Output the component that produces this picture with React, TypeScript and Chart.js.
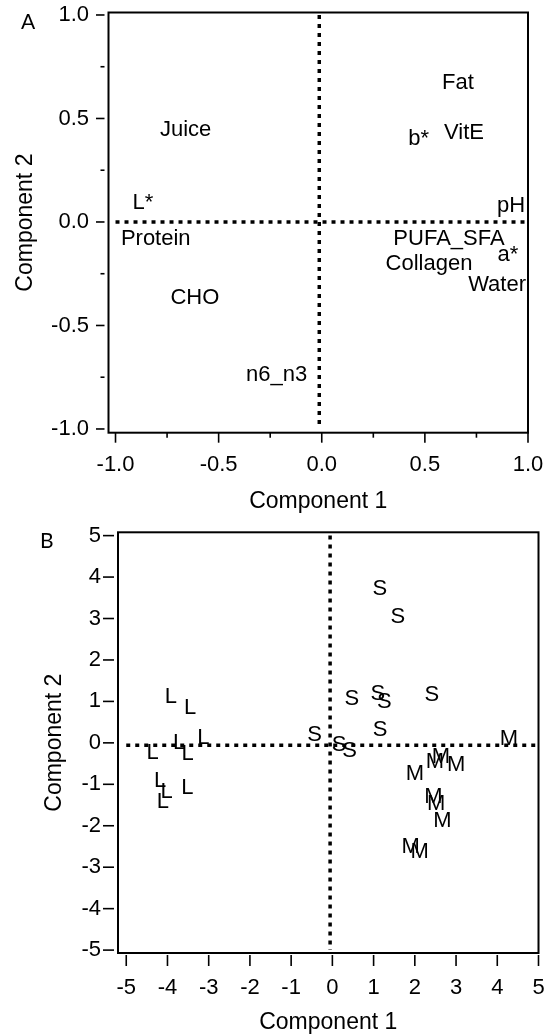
import React, { useEffect, useRef } from 'react';
import { Chart, registerables } from 'chart.js';

Chart.register(...registerables);

const SANS = '"Liberation Sans", Arial, Helvetica, sans-serif';
const LETTER_FONT = 'Lato, "Open Sans", sans-serif';

// ---------------- Panel A: variable loadings ----------------
const A_NAMES = ['Fat', 'Juice', 'b*', 'VitE', 'L*', 'pH', 'Protein', 'PUFA_SFA', 'a*', 'Collagen', 'Water', 'CHO', 'n6_n3'];
const A_COMP1 = [0.66, -0.66, 0.47, 0.69, -0.867, 0.918, -0.805, 0.617, 0.903, 0.52, 0.85, -0.615, -0.219];
const A_COMP2 = [0.674, 0.444, 0.403, 0.428, 0.093, 0.077, -0.082, -0.084, -0.158, -0.203, -0.304, -0.366, -0.739];
const A_TICKS = [-1, -0.5, 0, 0.5, 1];
const A_MINOR_TICKS = [-0.75, -0.25, 0.25, 0.75];
const A_X_LIMITS = [-1.034, 1.0];
const A_Y_LIMITS = [-1.018, 1.012];
const A_REF_SPAN = [-1, 1];
const A_REF_ORIGIN = [-0.012, 0];

// ---------------- Panel B: sample scores ----------------
const B_L_COMP1 = [-3.92, -3.45, -3.13, -3.72, -3.51, -4.36, -4.18, -4.02, -4.11, -3.52];
const B_L_COMP2 = [1.10, 0.84, 0.11, 0.01, -0.27, -0.25, -0.92, -1.18, -1.42, -1.09];
const B_S_COMP1 = [1.15, 1.59, 0.47, 1.10, 1.26, 2.41, 1.16, -0.43, 0.16, 0.42];
const B_S_COMP2 = [3.71, 3.03, 1.07, 1.17, 0.99, 1.15, 0.30, 0.20, -0.06, -0.19];
const B_M_COMP1 = [4.28, 2.0, 2.49, 2.63, 3.0, 2.45, 2.52, 2.67, 1.9, 2.12];
const B_M_COMP2 = [0.10, -0.76, -0.47, -0.34, -0.54, -1.30, -1.48, -1.89, -2.51, -2.64];
const B_TICKS = [-5, -4, -3, -2, -1, 0, 1, 2, 3, 4, 5];
const B_X_LIMITS = [-5.2, 5];
const B_Y_LIMITS = [-5.07, 5.08];
const B_REF_SPAN = [-5, 5];
const B_REF_ORIGIN = [-0.055, -0.06];

const pts = (xs: number[], ys: number[]) => xs.map((x, i) => ({ x, y: ys[i] }));

type Layout = {
  letter: string; letterX: number; letterY: number; letterSize: number;
  padTop: number; padRight: number;
  yAxisWidth: number; yTickPad: number; yTitlePadTop: number;
  xAxisHeight: number; xTickPad: number; xTitlePad: { top: number; bottom: number };
  yTickGap: number; yTickLen: number; yMinorLen: number;
  xTickGap: number; xTickLen: number; xMinorLen: number;
};

type Panel = {
  labelSets: { texts: string[]; xs: number[]; ys: number[] }[];
  ticks: number[]; minor: number[];
  xLimits: number[]; yLimits: number[];
  refSpan: number[]; refOrigin: number[];
  fmt: (v: number) => string;
  layout: Layout;
};

const PANEL_A: Panel = {
  labelSets: [{ texts: A_NAMES, xs: A_COMP1, ys: A_COMP2 }],
  ticks: A_TICKS, minor: A_MINOR_TICKS,
  xLimits: A_X_LIMITS, yLimits: A_Y_LIMITS,
  refSpan: A_REF_SPAN, refOrigin: A_REF_ORIGIN,
  fmt: (v) => v.toFixed(1),
  layout: {
    letter: 'A', letterX: 21, letterY: 28.5, letterSize: 21,
    padTop: 12.5, padRight: 20,
    yAxisWidth: 108.5, yTickPad: 19.5, yTitlePadTop: 12,
    xAxisHeight: 85.3, xTickPad: 19, xTitlePad: { top: 9.6, bottom: 2.7 },
    yTickGap: 4, yTickLen: 8.5, yMinorLen: 4,
    xTickGap: 0, xTickLen: 10, xMinorLen: 5,
  },
};

const PANEL_B: Panel = {
  labelSets: [
    { texts: B_L_COMP1.map(() => 'L'), xs: B_L_COMP1, ys: B_L_COMP2 },
    { texts: B_S_COMP1.map(() => 'S'), xs: B_S_COMP1, ys: B_S_COMP2 },
    { texts: B_M_COMP1.map(() => 'M'), xs: B_M_COMP1, ys: B_M_COMP2 },
  ],
  ticks: B_TICKS, minor: [],
  xLimits: B_X_LIMITS, yLimits: B_Y_LIMITS,
  refSpan: B_REF_SPAN, refOrigin: B_REF_ORIGIN,
  fmt: (v) => String(v),
  layout: {
    letter: 'B', letterX: 40, letterY: 30, letterSize: 21,
    padTop: 14.3, padRight: 9.5,
    yAxisWidth: 118, yTickPad: 17, yTitlePadTop: 41,
    xAxisHeight: 83, xTickPad: 21.3, xTitlePad: { top: 7.7, bottom: 0 },
    yTickGap: 4, yTickLen: 11, yMinorLen: 0,
    xTickGap: 2, xTickLen: 11, xMinorLen: 0,
  },
};

function makePlugin(p: Panel) {
  const L = p.layout;
  return {
    id: 'panelDecor',
    afterDatasetsDraw(chart: any) {
      const ctx = chart.ctx;
      ctx.save();
      ctx.fillStyle = '#000';
      ctx.font = `22px ${SANS}`;
      ctx.textAlign = 'center';
      ctx.textBaseline = 'middle';
      chart.data.datasets.forEach((ds: any, i: number) => {
        if (!ds.texts) return;
        const meta = chart.getDatasetMeta(i);
        meta.data.forEach((el: any, j: number) => {
          ctx.fillText(ds.texts[j], el.x, el.y);
        });
      });
      ctx.restore();
    },
    afterDraw(chart: any) {
      const { ctx, chartArea: a, scales } = chart;
      ctx.save();
      ctx.strokeStyle = '#000';
      ctx.lineWidth = 2;
      ctx.strokeRect(a.left, a.top, a.right - a.left, a.bottom - a.top);
      ctx.lineWidth = 1.6;
      const seg = (x1: number, y1: number, x2: number, y2: number) => {
        ctx.beginPath(); ctx.moveTo(x1, y1); ctx.lineTo(x2, y2); ctx.stroke();
      };
      p.ticks.forEach((v) => {
        const px = scales.x.getPixelForValue(v);
        seg(px, a.bottom + L.xTickGap, px, a.bottom + L.xTickGap + L.xTickLen);
        const py = scales.y.getPixelForValue(v);
        seg(a.left - L.yTickGap - L.yTickLen, py, a.left - L.yTickGap, py);
      });
      p.minor.forEach((v) => {
        const px = scales.x.getPixelForValue(v);
        seg(px, a.bottom + L.xTickGap, px, a.bottom + L.xTickGap + L.xMinorLen);
        const py = scales.y.getPixelForValue(v);
        seg(a.left - L.yTickGap - L.yMinorLen, py, a.left - L.yTickGap, py);
      });
      ctx.fillStyle = '#000';
      ctx.font = `${L.letterSize}px ${LETTER_FONT}`;
      ctx.textAlign = 'left';
      ctx.textBaseline = 'alphabetic';
      ctx.fillText(L.letter, L.letterX, L.letterY);
      ctx.restore();
    },
  };
}

const clearPadding = (s: any) => {
  s.paddingLeft = 0; s.paddingRight = 0; s.paddingTop = 0; s.paddingBottom = 0;
};

function makeConfig(p: Panel): any {
  const L = p.layout;
  const refLine = (data: { x: number; y: number }[]) => ({
    type: 'line',
    data,
    showLine: true,
    borderColor: '#000',
    borderWidth: 3.5,
    borderDash: [4, 5],
    borderCapStyle: 'butt',
    pointRadius: 0,
    fill: false,
  });
  const tickFont = { family: SANS, size: 22 };
  const titleFont = { family: SANS, size: 23 };
  return {
    type: 'scatter',
    data: {
      datasets: [
        ...p.labelSets.map((s) => ({
          data: pts(s.xs, s.ys),
          texts: s.texts,
          pointRadius: 0,
          pointHoverRadius: 0,
        })),
        refLine([{ x: p.refSpan[0], y: p.refOrigin[1] }, { x: p.refSpan[1], y: p.refOrigin[1] }]),
        refLine([{ x: p.refOrigin[0], y: p.refSpan[1] }, { x: p.refOrigin[0], y: p.refSpan[0] }]),
      ],
    },
    options: {
      animation: false,
      responsive: false,
      events: [],
      layout: { padding: { left: 0, right: L.padRight, top: L.padTop, bottom: 0 } },
      plugins: { legend: { display: false }, tooltip: { enabled: false } },
      scales: {
        x: {
          type: 'linear',
          min: p.xLimits[0],
          max: p.xLimits[1],
          afterBuildTicks: (s: any) => { s.ticks = p.ticks.map((v) => ({ value: v })); },
          afterFit: (s: any) => { s.height = L.xAxisHeight; clearPadding(s); },
          grid: { display: false, drawTicks: false },
          border: { display: false },
          ticks: {
            padding: L.xTickPad, color: '#000', font: tickFont,
            autoSkip: false, maxRotation: 0, minRotation: 0,
            callback: (v: number) => p.fmt(Number(v)),
          },
          title: { display: true, text: 'Component 1', color: '#000', font: titleFont, padding: L.xTitlePad },
        },
        y: {
          type: 'linear',
          min: p.yLimits[0],
          max: p.yLimits[1],
          afterBuildTicks: (s: any) => { s.ticks = p.ticks.map((v) => ({ value: v })); },
          afterFit: (s: any) => { s.width = L.yAxisWidth; clearPadding(s); },
          grid: { display: false, drawTicks: false },
          border: { display: false },
          ticks: {
            padding: L.yTickPad, color: '#000', font: tickFont,
            autoSkip: false,
            callback: (v: number) => p.fmt(Number(v)),
          },
          title: { display: true, text: 'Component 2', color: '#000', font: titleFont, padding: { top: L.yTitlePadTop, bottom: 0 } },
        },
      },
    },
    plugins: [makePlugin(p)],
  };
}

function PanelChart({ panel }: { panel: Panel }) {
  const ref = useRef<HTMLCanvasElement | null>(null);
  useEffect(() => {
    if (!ref.current) return;
    const chart = new Chart(ref.current, makeConfig(panel));
    return () => chart.destroy();
  }, [panel]);
  return <canvas ref={ref} width={548} height={518} style={{ display: 'block', width: 548, height: 518 }} />;
}

export default function App() {
  return (
    <div style={{ position: 'absolute', left: 0, top: 0, width: 548, height: 1036, background: '#fff' }}>
      <PanelChart panel={PANEL_A} />
      <PanelChart panel={PANEL_B} />
    </div>
  );
}
